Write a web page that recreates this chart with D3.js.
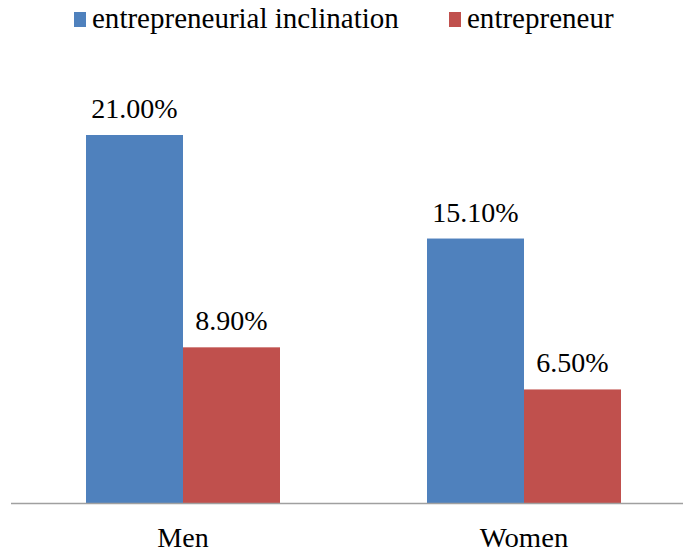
<!DOCTYPE html>
<html><head><meta charset="utf-8">
<script src="https://cdn.jsdelivr.net/npm/d3@7"></script>
</head><body style="margin:0">
<script>
const categories = ["Men", "Women"];
const seriesNames = ["entrepreneurial inclination", "entrepreneur"];
const inclination = [21.0, 15.1];
const entrepreneur = [8.9, 6.5];
const colors = ["#4F81BD", "#C0504D"];

// Times/Liberation Serif advance widths (em units) used to keep text widths stable
const adv = {"0":.5,"1":.5,"2":.5,"3":.5,"4":.5,"5":.5,"6":.5,"7":.5,"8":.5,"9":.5,".":.25,"%":.833,
  "M":.889,"W":.944,"e":.444,"n":.5,"o":.5,"m":.778,"t":.278,"r":.333,"p":.5,"u":.5,"i":.278,
  "a":.444,"l":.278,"c":.444," ":.25};
const textW = (s, size) => Array.from(s).reduce((a, ch) => a + (adv[ch] || .5), 0) * size;

const W = 683, H = 552;
const svg = d3.select("body").append("svg").attr("width", W).attr("height", H).style("display", "block");
const font = "\"Liberation Serif\", \"DejaVu Serif\", serif";
function txt(sel, s, size) {
  return sel.style("font-family", font).style("font-size", size + "px").attr("fill", "#000")
    .attr("textLength", textW(s, size)).attr("lengthAdjust", "spacingAndGlyphs").text(s);
}

const baseY = 503.5;
const x = d3.scaleBand().domain(categories).range([12.5, 694.5]).paddingInner(0).paddingOuter(0);
const y = d3.scaleLinear().domain([0, 21]).range([baseY, 135]);
const barW = 97;

const series = [inclination, entrepreneur];
series.forEach((vals, si) => {
  categories.forEach((c, i) => {
    const cx = x(c) + x.bandwidth() / 2;
    const bx = cx + (si - 1) * barW;
    svg.append("rect").attr("x", bx).attr("y", y(vals[i])).attr("width", barW)
      .attr("height", baseY - y(vals[i])).attr("fill", colors[si]);
    txt(svg.append("text"), vals[i].toFixed(2) + "%", 28)
      .attr("x", bx + barW / 2).attr("y", y(vals[i]) - 17).attr("text-anchor", "middle");
  });
});

svg.append("line").attr("x1", 11).attr("x2", W).attr("y1", baseY).attr("y2", baseY)
  .attr("stroke", "#a0a0a0").attr("stroke-width", 1.5);

categories.forEach(c => {
  txt(svg.append("text"), c, 28).attr("x", x(c) + x.bandwidth() / 2).attr("y", 547)
    .attr("text-anchor", "middle");
});

const legX = [74, 449];
seriesNames.forEach((n, i) => {
  svg.append("rect").attr("x", legX[i]).attr("y", 12).attr("width", 12).attr("height", 15).attr("fill", colors[i]);
  txt(svg.append("text"), n, 29).attr("x", legX[i] + 18).attr("y", 28);
});
</script>
</body></html>
